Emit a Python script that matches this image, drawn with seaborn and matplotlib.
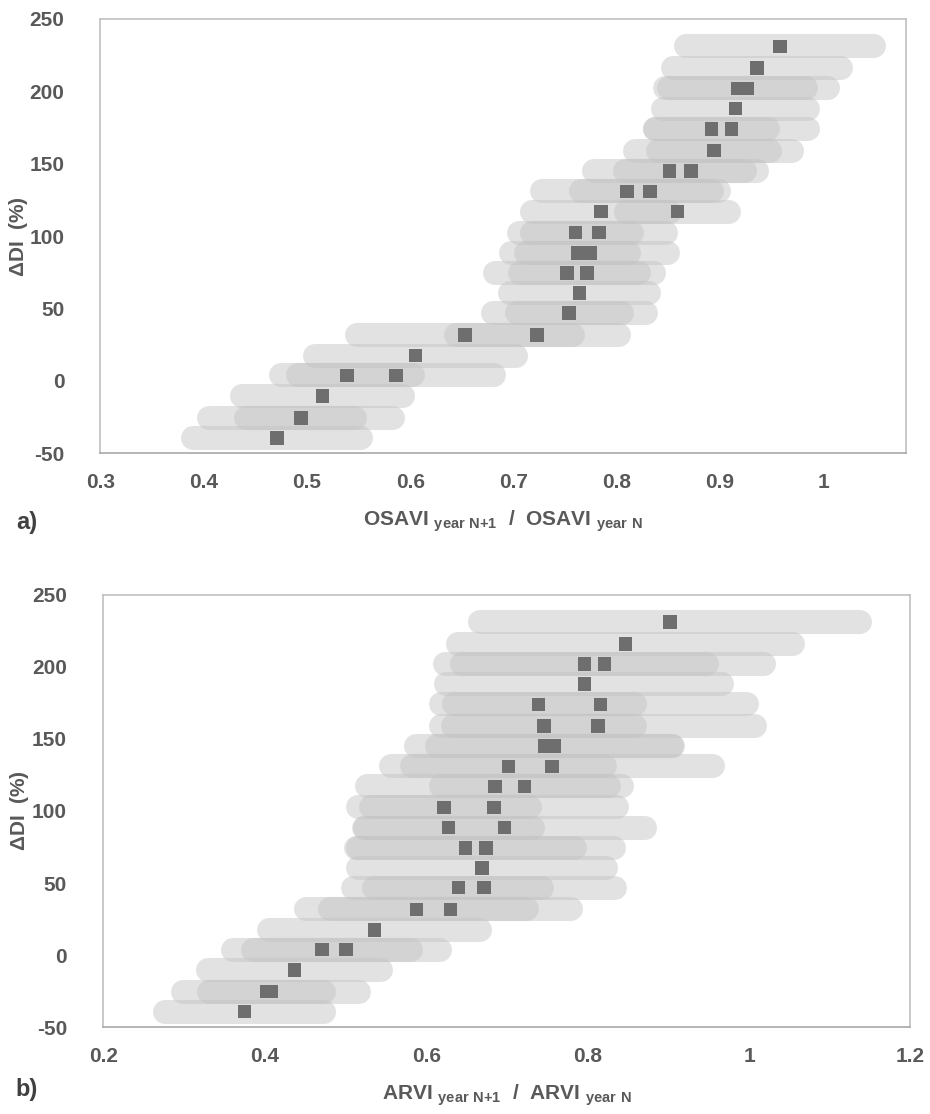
import numpy as np
import pandas as pd
import matplotlib
matplotlib.use('Agg')
import matplotlib.pyplot as plt
import seaborn as sns

# Delta DI (%) of each site, shared by both panels
ddi = [231, 216, 202, 202, 188, 174, 174, 159, 159, 145, 145, 131, 131, 117, 117,
       102.5, 102.5, 88.5, 88.5, 74.4, 74.4, 60.6, 46.8, 46.8, 31.7, 31.7, 17.5,
       3.8, 3.8, -10.2, -25.4, -25.4, -39.3]

# a) OSAVI ratio year N+1 / year N and its spread
osavi_ratio = [0.958, 0.936, 0.917, 0.926, 0.915, 0.892, 0.911, 0.894, 0.894, 0.851, 0.872,
               0.810, 0.832, 0.785, 0.859, 0.760, 0.783, 0.762, 0.774, 0.752, 0.771, 0.764,
               0.754, 0.754, 0.653, 0.723, 0.605, 0.539, 0.586, 0.515, 0.494, 0.494, 0.471]
osavi_err = [0.091, 0.081, 0.066, 0.079, 0.070, 0.055, 0.074, 0.076, 0.054, 0.073, 0.064,
             0.082, 0.067, 0.067, 0.050, 0.055, 0.065, 0.050, 0.076, 0.070, 0.065, 0.067,
             0.074, 0.051, 0.105, 0.079, 0.097, 0.064, 0.095, 0.078, 0.089, 0.053, 0.081]

# b) ARVI ratio year N+1 / year N and its spread
arvi_ratio = [0.902, 0.847, 0.796, 0.821, 0.796, 0.739, 0.816, 0.746, 0.813, 0.747, 0.759,
              0.702, 0.756, 0.685, 0.722, 0.622, 0.684, 0.628, 0.697, 0.649, 0.674, 0.669,
              0.640, 0.672, 0.588, 0.630, 0.536, 0.471, 0.501, 0.437, 0.402, 0.408, 0.375]
arvi_err = [0.235, 0.207, 0.152, 0.198, 0.171, 0.120, 0.182, 0.113, 0.194, 0.159, 0.146,
            0.120, 0.199, 0.158, 0.104, 0.107, 0.152, 0.104, 0.174, 0.136, 0.159, 0.154,
            0.104, 0.162, 0.137, 0.149, 0.131, 0.110, 0.116, 0.107, 0.071, 0.109, 0.098]

yticks = [-50, 0, 50, 100, 150, 200, 250]
osavi_xticks = [0.3, 0.4, 0.5, 0.6, 0.7, 0.8, 0.9, 1.0]
osavi_xticklabels = ['0.3', '0.4', '0.5', '0.6', '0.7', '0.8', '0.9', '1']
arvi_xticks = [0.2, 0.4, 0.6, 0.8, 1.0, 1.2]
arvi_xticklabels = ['0.2', '0.4', '0.6', '0.8', '1', '1.2']

sns.set_style('white')
plt.rcParams['font.family'] = ['Liberation Sans', 'DejaVu Sans']
plt.rcParams['mathtext.default'] = 'regular'
plt.rcParams['axes.unicode_minus'] = False

TXT = '#595959'
BAR = '#c4c4c4'
MARK = '#6e6e6e'


def draw_panel(ax, ratio, err, xlim, xticks, xticklabels, index, ylab_x):
    df = pd.DataFrame({'ratio': ratio, 'err': err, 'ddi': ddi})
    ax.hlines(df['ddi'], df['ratio'] - df['err'], df['ratio'] + df['err'],
              colors=BAR, alpha=0.48, linewidth=17.3, capstyle='round', zorder=1)
    sns.scatterplot(data=df, x='ratio', y='ddi', ax=ax, marker='s', s=95,
                    color=MARK, edgecolor='none', linewidth=0, zorder=3)
    ax.set_xlim(*xlim)
    ax.set_ylim(-50, 250)
    ax.set_xticks(xticks)
    ax.set_xticklabels(xticklabels)
    ax.set_yticks(yticks)
    ax.tick_params(length=0, labelsize=15, labelcolor=TXT)
    ax.tick_params(axis='x', pad=14)
    ax.tick_params(axis='y', pad=26)
    for lab in ax.get_xticklabels() + ax.get_yticklabels():
        lab.set_fontweight('bold')
    for sp in ax.spines.values():
        sp.set_color('#c0c0c0')
        sp.set_linewidth(1.2)
    ax.spines['bottom'].set_color('#a8a8a8')
    ax.set_xlabel(r'%s $_{year\ N{+}1}$  /  %s $_{year\ N}$' % (index, index),
                  fontsize=15, fontweight='bold', color=TXT, labelpad=12)
    ax.set_ylabel(r'$\Delta$DI  (%)', fontsize=15, fontweight='bold', color=TXT)
    ax.yaxis.set_label_coords(ylab_x, 0.5)


fig = plt.figure(figsize=(9.3, 11.14), dpi=100)
ax_a = fig.add_axes([0.108, 0.593, 0.866, 0.390])
ax_b = fig.add_axes([0.111, 0.078, 0.868, 0.388])

draw_panel(ax_a, osavi_ratio, osavi_err, (0.3, 1.08), osavi_xticks, osavi_xticklabels, 'OSAVI', -0.087)
draw_panel(ax_b, arvi_ratio, arvi_err, (0.2, 1.2), arvi_xticks, arvi_xticklabels, 'ARVI', -0.090)

fig.text(0.029, 0.531, 'a)', fontsize=17, fontweight='bold', color='#404040', va='center', ha='center')
fig.text(0.029, 0.022, 'b)', fontsize=17, fontweight='bold', color='#404040', va='center', ha='center')

fig.savefig('out.png', dpi=100)
